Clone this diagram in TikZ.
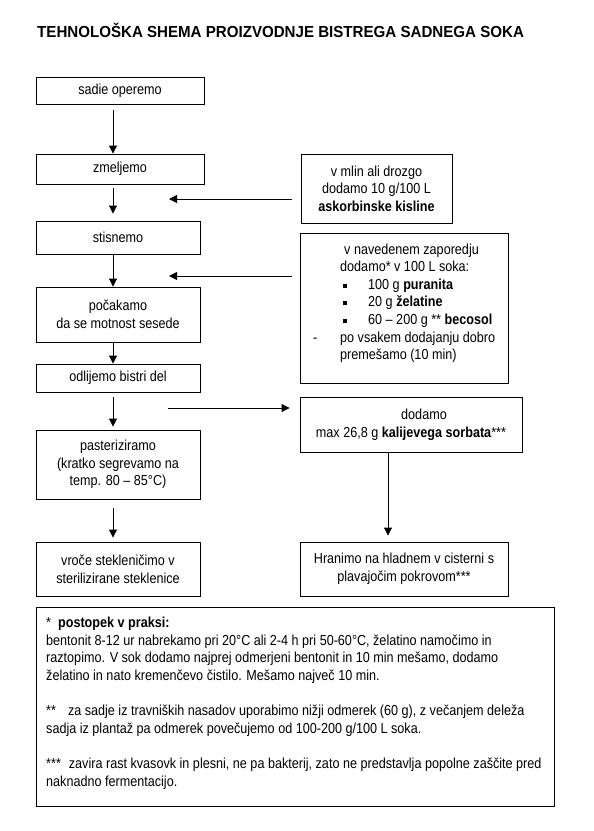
\documentclass[tikz,border=0pt]{standalone}
\usepackage{fontspec}
\setmainfont{Liberation Sans}[FakeStretch=0.87]
\newfontfamily\headfont{Liberation Sans}[FakeStretch=0.944]
\usetikzlibrary{arrows.meta,positioning,calc}
\tikzset{
  every node/.style={font=\fontsize{14.5}{17.6}\selectfont},
  stepbox/.style={draw, line width=0.9pt, align=center, inner sep=0pt},
  txt/.style={align=left, inner sep=0pt, anchor=north west},
  ttl/.style={font=\headfont\bfseries\fontsize{16}{18}\selectfont, inner sep=0pt, anchor=base west},
  ar/.style={-{Triangle[length=8pt,width=8pt]}, line width=0.9pt},
}
\newcommand{\sqblt}{\hspace*{3pt}\rule[1.5pt]{4pt}{4pt}\hspace*{21pt}}
\newcommand{\dashblt}{\llap{-\hspace*{23pt}}}

\begin{document}
\begin{tikzpicture}[x=1pt, y=-1pt]
\useasboundingbox (0,0) rectangle (594,831);

\node[ttl] (title) at (37,37) {TEHNOLOŠKA SHEMA PROIZVODNJE BISTREGA SADNEGA SOKA};

% ---------------- main line ----------------
\node[stepbox, minimum width=168, minimum height=27] (wash) at (120,90.5) {sadie operemo};
\node[stepbox, minimum width=168, minimum height=30] (mill) at (120,169) {zmeljemo};
\node[stepbox, minimum width=164, minimum height=33] (press) at (118,237.5) {stisnemo};
\node[stepbox, minimum width=164, minimum height=55] (settle) at (118,314.5)
  {počakamo\\da se motnost sesede};
\node[stepbox, minimum width=164, minimum height=28] (decant) at (118,378) {odlijemo bistri del};
\node[stepbox, minimum width=164, minimum height=69] (pasteur) at (118,464.5)
  {pasteriziramo\\(kratko segrevamo na\\temp. 80 – 85°C)};
\node[stepbox, minimum width=164, minimum height=54] (bottle) at (118,569)
  {vroče stekleničimo v\\sterilizirane steklenice};

% ---------------- additions ----------------
\node[stepbox, minimum width=151, minimum height=69] (ascorb) at (376.5,188.5)
  {v mlin ali drozgo\\dodamo 10 g/100 L\\\textbf{askorbinske kisline}};
\node[stepbox, minimum width=208, minimum height=150] (clarif) at (404,308) {};
\node[txt] (clariftxt) at (340,243.4)
  {\hspace*{4pt}v navedenem zaporedju\\
   dodamo* v 100 L soka:\\
   \sqblt 100 g \textbf{puranita}\\
   \sqblt 20 g \textbf{želatine}\\
   \sqblt 60 – 200 g ** \textbf{becosol}\\
   \dashblt po vsakem dodajanju dobro\\
   premešamo (10 min)};
\node[stepbox, minimum width=222, minimum height=55] (sorbate) at (411,424.5)
  {\hspace*{26pt}dodamo\\max 26,8 g \textbf{kalijevega sorbata}***};
\node[stepbox, minimum width=208, minimum height=54] (store) at (404,569)
  {Hranimo na hladnem v cisterni s\\plavajočim pokrovom***};

% ---------------- notes ----------------
\node[stepbox, minimum width=518, minimum height=199] (notes) at (295,706.5) {};
\node[txt] (notestxt) at (46,617)
  {*\hspace{7pt}\textbf{postopek v praksi:}\\
   bentonit 8-12 ur nabrekamo pri 20°C ali 2-4 h pri 50-60°C, želatino namočimo in\\
   raztopimo. V sok dodamo najprej odmerjeni bentonit in 10 min mešamo, dodamo\\
   želatino in nato kremenčevo čistilo. Mešamo največ 10 min.\\[17.6pt]
   **\hspace{12pt}za sadje iz travniških nasadov uporabimo nižji odmerek (60 g), z večanjem deleža\\
   sadja iz plantaž pa odmerek povečujemo od 100-200 g/100 L soka.\\[17.6pt]
   ***\hspace{8pt}zavira rast kvasovk in plesni, ne pa bakterij, zato ne predstavlja popolne zaščite pred\\
   naknadno fermentacijo.};

% ---------------- arrows ----------------
\coordinate (axis) at (113,0);
\coordinate (raxis) at (388,0);
\coordinate (mixin) at (169,199);
\coordinate (clarin) at (169,276);
\coordinate (sorbout) at (168,408);

\draw[ar] ($(wash.south -| axis)+(0,6)$) -- (mill.north -| axis);
\draw[ar] ($(mill.south -| axis)+(0,4)$) -- ($(press.north -| axis)+(0,-7)$);
\draw[ar] (press.south -| axis) -- (settle.north -| axis);
\draw[ar] (settle.south -| axis) -- (decant.north -| axis);
\draw[ar] ($(decant.south -| axis)+(0,5)$) -- ($(pasteur.north -| axis)+(0,-3)$);
\draw[ar] ($(pasteur.south -| axis)+(0,9)$) -- ($(bottle.north -| axis)+(0,-4)$);
\draw[ar] (sorbate.south -| raxis) -- ($(store.north -| raxis)+(0,-6)$);

\draw[ar] ($(ascorb.west |- mixin)+(-9,0)$) -- (mixin);
\draw[ar] ($(clarif.west |- clarin)+(-8,0)$) -- (clarin);
\draw[ar] (sorbout) -- ($(sorbate.west |- sorbout)+(-10,0)$);

\end{tikzpicture}
\end{document}
